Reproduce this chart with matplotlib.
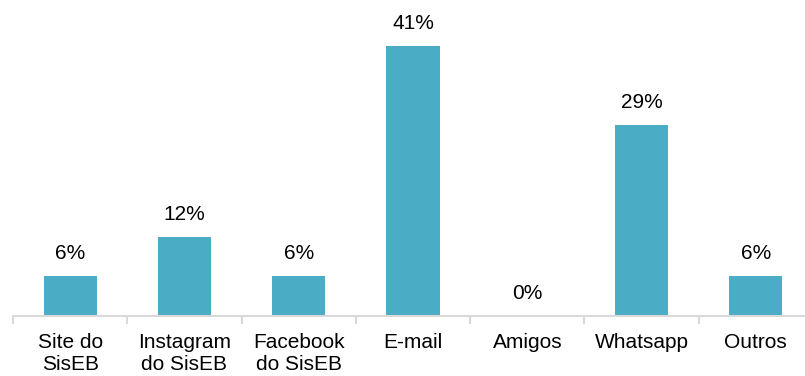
import matplotlib
matplotlib.use("Agg")
import matplotlib.pyplot as plt
import numpy as np

categories = ["Site do\nSisEB", "Instagram\ndo SisEB", "Facebook\ndo SisEB", "E-mail", "Amigos", "Whatsapp", "Outros"]
values = [6, 12, 6, 41, 0, 29, 6]
value_labels = ["6%", "12%", "6%", "41%", "0%", "29%", "6%"]

plt.rcParams['font.family'] = ['Liberation Sans', 'DejaVu Sans']

W, H = 805, 376
fig = plt.figure(figsize=(W/100, H/100), dpi=100)
left_px, right_px = 13, 813
bottom_px, top_px = 316, 6
ax = fig.add_axes([left_px/W, 1 - bottom_px/H, (right_px-left_px)/W, (bottom_px-top_px)/H])

x = np.arange(len(categories))
color = "#4BACC6"
ax.bar(x, values, width=0.465, color=color, zorder=2)
ax.set_xlim(-0.5, len(categories) - 0.5)
px_per_unit = 270 / 41
ax.set_ylim(0, (bottom_px - top_px) / px_per_unit)

for xi, v, lab in zip(x, values, value_labels):
    ax.annotate(lab, (xi, v), xytext=(0, 17), textcoords="offset pixels",
                ha="center", va="baseline", fontsize=15, color="#000000")

for s in ["top", "right", "left"]:
    ax.spines[s].set_visible(False)
ax.spines["bottom"].set_color("#D9D9D9")
ax.spines["bottom"].set_linewidth(1.5)
ax.set_yticks([])

ax.set_xticks(np.arange(-0.5, len(categories), 1.0))
ax.set_xticklabels([])
ax.tick_params(axis="x", which="major", length=6, width=1.5, color="#D9D9D9", direction="out")
ax.set_xticks(x, minor=True)
ax.set_xticklabels(categories, minor=True, fontsize=15, color="#000000", linespacing=1.2)
ax.tick_params(axis="x", which="minor", length=0, pad=12)

fig.savefig("out.png", dpi=100)
